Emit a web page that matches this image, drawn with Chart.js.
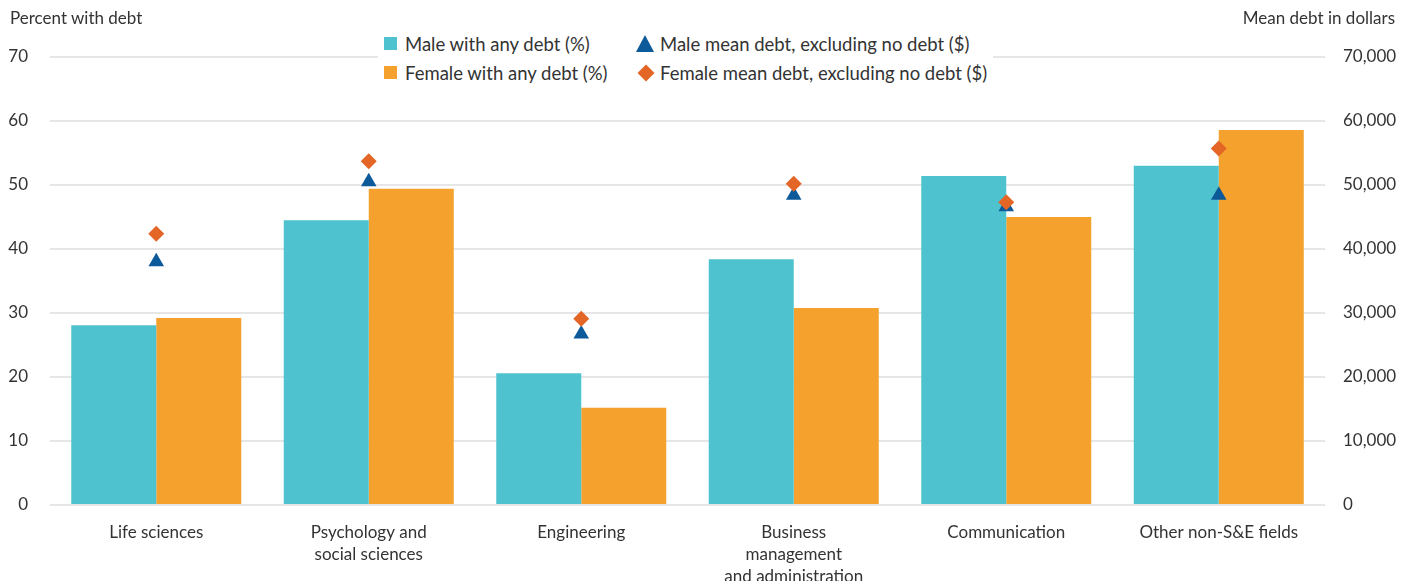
<!DOCTYPE html>
<html>
<head>
<meta charset="utf-8">
<script src="https://cdn.jsdelivr.net/npm/chart.js@4.4.1/dist/chart.umd.min.js"></script>
<style>
  body { margin: 0; background: #fff; font-family: Lato, "Open Sans", sans-serif; color: #333; }
  #wrap { position: relative; width: 1410px; height: 581px; }
  .axtitle { position: absolute; top: 7px; font-size: 17px; color: #333; }
  #legend { position: absolute; left: 378px; top: 27px; background: #fff; padding: 2px 6px; font-size: 18.5px; }
  #legend .row { display: flex; height: 29px; align-items: center; }
  #legend .item { display: flex; align-items: center; }
  #legend .c1 { width: 252px; }
  .sq { width: 13px; height: 13px; margin-right: 8px; }
  .tri { width: 0; height: 0; border-left: 9px solid transparent; border-right: 9px solid transparent; border-bottom: 17px solid #0C5A9A; margin-right: 6px; }
  .dia { width: 12px; height: 12px; background: #E36627; transform: rotate(45deg); margin: 0 8px 0 4px; }
</style>
</head>
<body>
<div id="wrap">
  <canvas id="myChart" width="1410" height="581"></canvas>
  <div class="axtitle" style="left:10px">Percent with debt</div>
  <div class="axtitle" style="right:15px">Mean debt in dollars</div>
  <div id="legend">
    <div class="row">
      <div class="item c1"><span class="sq" style="background:#4EC3CF"></span>Male with any debt (%)</div>
      <div class="item"><span class="tri"></span>Male mean debt, excluding no debt ($)</div>
    </div>
    <div class="row">
      <div class="item c1"><span class="sq" style="background:#F4A12E"></span>Female with any debt (%)</div>
      <div class="item"><span class="dia"></span>Female mean debt, excluding no debt ($)</div>
    </div>
  </div>
</div>
<script>
// Data
const fields = ['Life sciences', ['Psychology and', 'social sciences'], 'Engineering',
  ['Business', 'management', 'and administration'], 'Communication', 'Other non-S&E fields'];
const malePct = [28.1, 44.5, 20.6, 38.4, 51.4, 53.0];
const femalePct = [29.2, 49.4, 15.2, 30.8, 45.0, 58.6];
const maleDebt = [38000, 50500, 26700, 48400, 46600, 48400];
const femaleDebt = [42400, 53700, 29100, 50200, 47300, 55700];
const pctTicks = [0, 10, 20, 30, 40, 50, 60, 70];
const debtTicks = [0, 10000, 20000, 30000, 40000, 50000, 60000, 70000];

const font = { family: 'Lato, "Open Sans", sans-serif', size: 17 };

const ctx = document.getElementById('myChart').getContext('2d');
new Chart(ctx, {
  type: 'bar',
  data: {
    labels: fields,
    datasets: [
      { label: 'Male with any debt (%)', data: malePct, backgroundColor: '#4EC3CF', yAxisID: 'y', order: 2 },
      { label: 'Female with any debt (%)', data: femalePct, backgroundColor: '#F4A12E', yAxisID: 'y', order: 2 },
      { label: 'Male mean debt, excluding no debt ($)', type: 'line', data: maleDebt, yAxisID: 'y1',
        showLine: false, pointStyle: 'triangle', pointRadius: 9, pointHoverRadius: 9,
        backgroundColor: '#0C5A9A', borderColor: '#0C5A9A', borderWidth: 0, order: 1 },
      { label: 'Female mean debt, excluding no debt ($)', type: 'line', data: femaleDebt, yAxisID: 'y1',
        showLine: false, pointStyle: 'rectRot', pointRadius: 8, pointHoverRadius: 8,
        backgroundColor: '#E36627', borderColor: '#E36627', borderWidth: 0, order: 0 }
    ]
  },
  options: {
    responsive: false,
    animation: false,
    layout: { padding: { top: 57, left: 0, right: 0, bottom: 0 } },
    datasets: { bar: { categoryPercentage: 0.8, barPercentage: 1.0 } },
    plugins: { legend: { display: false }, tooltip: { enabled: false } },
    scales: {
      x: {
        grid: { display: false },
        border: { display: false },
        ticks: { color: '#333', font: { ...font, lineHeight: 1.3 }, padding: 8, maxRotation: 0, autoSkip: false },
        afterFit: s => { s.height = 76; }
      },
      y: {
        position: 'left', min: 0, max: 70,
        afterBuildTicks: s => { s.ticks = pctTicks.map(v => ({ value: v })); },
        grid: { color: '#e6e6e6', lineWidth: 2, drawTicks: false },
        border: { display: false },
        ticks: { color: '#333', font: font, padding: 22 },
        afterFit: s => { s.width = 50; }
      },
      y1: {
        position: 'right', min: 0, max: 70000,
        afterBuildTicks: s => { s.ticks = debtTicks.map(v => ({ value: v })); },
        grid: { display: false, drawTicks: false },
        border: { display: false },
        ticks: { color: '#333', font: font, padding: 18,
          callback: v => v.toLocaleString('en-US') },
        afterFit: s => { s.width = 85; }
      }
    }
  }
});
</script>
</body>
</html>
